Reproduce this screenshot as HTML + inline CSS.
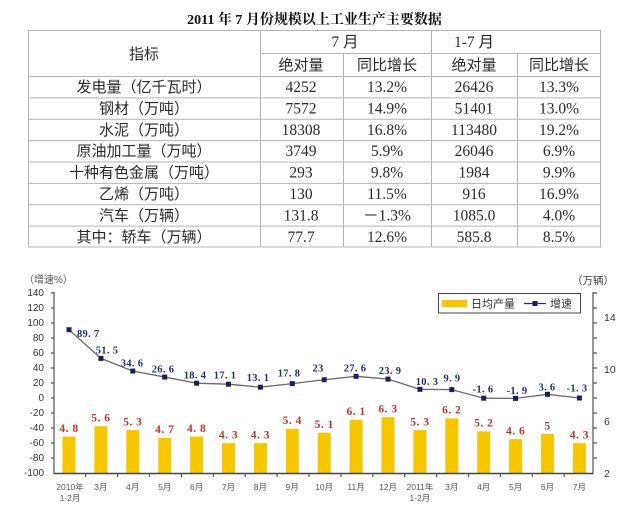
<!DOCTYPE html>
<html><head><meta charset="utf-8">
<style>
html,body{margin:0;padding:0;background:#fff;}
svg{display:block;}
.t{font-family:"Liberation Sans","Noto Sans CJK SC",sans-serif;font-size:15px;fill:#2a2a2a;}
.n{font-family:"Liberation Serif","Noto Sans CJK SC",serif;font-size:15.5px;fill:#2a2a2a;}
.ax{font-family:"Liberation Sans",sans-serif;font-size:10px;fill:#333;}
.xl{font-family:"Liberation Sans","Noto Sans CJK SC",sans-serif;font-size:8.5px;fill:#555;}
.rl{font-family:"Liberation Serif",serif;font-weight:bold;font-size:11.5px;fill:#b33a30;letter-spacing:0.5px;}
.bl{font-family:"Liberation Serif",serif;font-weight:bold;font-size:10.5px;fill:#22306a;letter-spacing:0.3px;}
</style></head>
<body>
<svg width="628" height="521" viewBox="0 0 628 521" xmlns="http://www.w3.org/2000/svg">
<rect width="628" height="521" fill="#fff"/>
<!-- Title -->
<text x="314.5" y="24" text-anchor="middle" style="font-family:'Liberation Serif','Noto Serif CJK SC',serif;font-weight:bold;font-size:14px;fill:#111;">2011 年 7 月份规模以上工业生产主要数据</text>

<!-- Table -->
<g stroke="#b4b4b4" stroke-width="1" fill="none">
<rect x="28.5" y="30.5" width="572" height="216.5"/>
<line x1="260.5" y1="30" x2="260.5" y2="247"/>
<line x1="431.5" y1="30" x2="431.5" y2="247"/>
<line x1="343.5" y1="53" x2="343.5" y2="247"/>
<line x1="517.5" y1="53" x2="517.5" y2="247"/>
<line x1="260" y1="53.5" x2="601" y2="53.5"/>
<line x1="28" y1="76.5" x2="601" y2="76.5"/>
<line x1="28" y1="97.9" x2="601" y2="97.9"/>
<line x1="28" y1="119.3" x2="601" y2="119.3"/>
<line x1="28" y1="140.6" x2="601" y2="140.6"/>
<line x1="28" y1="162" x2="601" y2="162"/>
<line x1="28" y1="183.4" x2="601" y2="183.4"/>
<line x1="28" y1="204.8" x2="601" y2="204.8"/>
<line x1="28" y1="226.1" x2="601" y2="226.1"/>
</g>
<g text-anchor="middle">
<text class="t" x="144" y="59">指标</text>
<text class="n" x="345" y="47">7 月</text>
<text class="n" x="474" y="47">1-7 月</text>
<text class="t" x="301" y="70">绝对量</text>
<text class="t" x="387" y="70">同比增长</text>
<text class="t" x="474" y="70">绝对量</text>
<text class="t" x="559" y="70">同比增长</text>

<text class="t" x="144" y="92">发电量（亿千瓦时）</text>
<text class="n" x="301" y="92">4252</text><text class="n" x="387" y="92">13.2%</text><text class="n" x="474" y="92">26426</text><text class="n" x="559" y="92">13.3%</text>

<text class="t" x="144" y="113.4">钢材（万吨）</text>
<text class="n" x="301" y="113.4">7572</text><text class="n" x="387" y="113.4">14.9%</text><text class="n" x="474" y="113.4">51401</text><text class="n" x="559" y="113.4">13.0%</text>

<text class="t" x="144" y="134.8">水泥（万吨）</text>
<text class="n" x="301" y="134.8">18308</text><text class="n" x="387" y="134.8">16.8%</text><text class="n" x="474" y="134.8">113480</text><text class="n" x="559" y="134.8">19.2%</text>

<text class="t" x="144" y="156.2">原油加工量（万吨）</text>
<text class="n" x="301" y="156.2">3749</text><text class="n" x="387" y="156.2">5.9%</text><text class="n" x="474" y="156.2">26046</text><text class="n" x="559" y="156.2">6.9%</text>

<text class="t" x="144" y="177.6">十种有色金属（万吨）</text>
<text class="n" x="301" y="177.6">293</text><text class="n" x="387" y="177.6">9.8%</text><text class="n" x="474" y="177.6">1984</text><text class="n" x="559" y="177.6">9.9%</text>

<text class="t" x="144" y="199">乙烯（万吨）</text>
<text class="n" x="301" y="199">130</text><text class="n" x="387" y="199">11.5%</text><text class="n" x="474" y="199">916</text><text class="n" x="559" y="199">16.9%</text>

<text class="t" x="144" y="220.4">汽车（万辆）</text>
<text class="n" x="301" y="220.4">131.8</text><text class="n" x="387" y="220.4">－1.3%</text><text class="n" x="474" y="220.4">1085.0</text><text class="n" x="559" y="220.4">4.0%</text>

<text class="t" x="144" y="241.8">其中：轿车（万辆）</text>
<text class="n" x="301" y="241.8">77.7</text><text class="n" x="387" y="241.8">12.6%</text><text class="n" x="474" y="241.8">585.8</text><text class="n" x="559" y="241.8">8.5%</text>
</g>

<!-- Chart -->
<text x="24" y="283" style="font-family:'Liberation Sans','Noto Sans CJK SC',sans-serif;font-size:10px;fill:#555;">（增速%）</text>
<text x="572" y="284" style="font-family:'Liberation Sans','Noto Sans CJK SC',sans-serif;font-size:10.5px;fill:#444;">（万辆）</text>

<!-- left axis labels -->
<g class="ax" text-anchor="end">
<text x="44" y="296">140</text>
<text x="44" y="311">120</text>
<text x="44" y="326">100</text>
<text x="44" y="341">80</text>
<text x="44" y="356">60</text>
<text x="44" y="371">40</text>
<text x="44" y="386">20</text>
<text x="44" y="401">0</text>
<text x="44" y="416">-20</text>
<text x="44" y="431">-40</text>
<text x="44" y="446">-60</text>
<text x="44" y="461">-80</text>
<text x="44" y="476">-100</text>
</g>
<!-- right axis labels -->
<g class="ax" style="font-size:10.5px">
<text x="604" y="321">14</text>
<text x="604" y="373">10</text>
<text x="604" y="425">6</text>
<text x="604" y="477">2</text>
</g>

<!-- bars -->
<g fill="#f6c700">
<rect x="62.5" y="436.6" width="13" height="36.4"/>
<rect x="94.4" y="426.2" width="13" height="46.8"/>
<rect x="126.3" y="430.1" width="13" height="42.9"/>
<rect x="158.2" y="437.9" width="13" height="35.1"/>
<rect x="190.1" y="436.6" width="13" height="36.4"/>
<rect x="222" y="443.1" width="13" height="29.9"/>
<rect x="253.9" y="443.1" width="13" height="29.9"/>
<rect x="285.8" y="428.8" width="13" height="44.2"/>
<rect x="317.7" y="432.7" width="13" height="40.3"/>
<rect x="349.6" y="419.7" width="13" height="53.3"/>
<rect x="381.5" y="417.1" width="13" height="55.9"/>
<rect x="413.4" y="430.1" width="13" height="42.9"/>
<rect x="445.3" y="418.4" width="13" height="54.6"/>
<rect x="477.2" y="431.4" width="13" height="41.6"/>
<rect x="509.1" y="439.2" width="13" height="33.8"/>
<rect x="541" y="434" width="13" height="39"/>
<rect x="572.9" y="443.1" width="13" height="29.9"/>
</g>

<!-- axes -->
<g stroke="#555" stroke-width="1.2" fill="none">
<line x1="54" y1="292" x2="54" y2="473.5"/>
<line x1="593" y1="292" x2="593" y2="473.5"/>
<line x1="53.5" y1="473.5" x2="593.5" y2="473.5" stroke="#444" stroke-width="1.5"/>
<path d="M51 293H54M51 308H54M51 323H54M51 338H54M51 353H54M51 368H54M51 383H54M51 398H54M51 413H54M51 428H54M51 443H54M51 458H54"/>
<path d="M593 293H597M593 308H597M593 323H597M593 338H597M593 353H597M593 368H597M593 383H597M593 398H597M593 413H597M593 428H597M593 443H597M593 458H597"/>
<path d="M85.7 473V477M117.6 473V477M149.5 473V477M181.4 473V477M213.3 473V477M245.2 473V477M277.1 473V477M309 473V477M340.9 473V477M372.8 473V477M404.7 473V477M436.6 473V477M468.5 473V477M500.4 473V477M532.3 473V477M564.2 473V477"/>
</g>

<!-- line -->
<polyline fill="none" stroke="#6a6a6a" stroke-width="1.3" points="69,329.7 100.9,358.4 132.8,371.05 164.7,377.05 196.6,383.2 228.5,384.2 260.4,387.2 292.3,383.65 324.2,379.75 356.1,376.3 388,379.1 419.9,389.3 451.8,389.6 483.7,398.2 515.6,398.4 547.5,394.3 579.4,398"/>
<g fill="#1a1f5c">
<rect x="66.5" y="327.2" width="5" height="5"/>
<rect x="98.4" y="355.9" width="5" height="5"/>
<rect x="130.3" y="368.55" width="5" height="5"/>
<rect x="162.2" y="374.55" width="5" height="5"/>
<rect x="194.1" y="380.7" width="5" height="5"/>
<rect x="226" y="381.7" width="5" height="5"/>
<rect x="257.9" y="384.7" width="5" height="5"/>
<rect x="289.8" y="381.15" width="5" height="5"/>
<rect x="321.7" y="377.25" width="5" height="5"/>
<rect x="353.6" y="373.8" width="5" height="5"/>
<rect x="385.5" y="376.6" width="5" height="5"/>
<rect x="417.4" y="386.8" width="5" height="5"/>
<rect x="449.3" y="387.1" width="5" height="5"/>
<rect x="481.2" y="395.7" width="5" height="5"/>
<rect x="513.1" y="395.9" width="5" height="5"/>
<rect x="545" y="391.8" width="5" height="5"/>
<rect x="576.9" y="395.5" width="5" height="5"/>
</g>

<!-- line labels -->
<g class="bl" text-anchor="middle">
<text x="77" y="337" text-anchor="start">89. 7</text>
<text x="107" y="353.5">51. 5</text>
<text x="132" y="366.5">34. 6</text>
<text x="163" y="372.5">26. 6</text>
<text x="195" y="378.5">18. 4</text>
<text x="225" y="378.5">17. 1</text>
<text x="258" y="381">13. 1</text>
<text x="289" y="376.5">17. 8</text>
<text x="318" y="371.5">23</text>
<text x="355" y="371.5">27. 6</text>
<text x="390" y="374">23. 9</text>
<text x="427" y="385">10. 3</text>
<text x="452" y="381.5">9. 9</text>
<text x="483" y="392.5">-1. 6</text>
<text x="517" y="394">-1. 9</text>
<text x="547" y="390.5">3. 6</text>
<text x="577" y="391.5">-1. 3</text>
</g>

<!-- bar labels -->
<g class="rl" text-anchor="middle">
<text x="69" y="432">4. 8</text>
<text x="100.9" y="421.5">5. 6</text>
<text x="132.8" y="425.5">5. 3</text>
<text x="164.7" y="433">4. 7</text>
<text x="196.6" y="432">4. 8</text>
<text x="228.5" y="438.5">4. 3</text>
<text x="260.4" y="438.5">4. 3</text>
<text x="292.3" y="424">5. 4</text>
<text x="324.2" y="428">5. 1</text>
<text x="356.1" y="415">6. 1</text>
<text x="388" y="412.5">6. 3</text>
<text x="419.9" y="425.5">5. 3</text>
<text x="451.8" y="413.5">6. 2</text>
<text x="483.7" y="426.5">5. 2</text>
<text x="515.6" y="434.5">4. 6</text>
<text x="547.5" y="429.5">5</text>
<text x="579.4" y="438.5">4. 3</text>
</g>

<!-- x labels -->
<g class="xl" text-anchor="middle">
<text x="70" y="490">2010年</text>
<text x="70" y="501">1-2月</text>
<text x="100.9" y="490">3月</text>
<text x="132.8" y="490">4月</text>
<text x="164.7" y="490">5月</text>
<text x="196.6" y="490">6月</text>
<text x="228.5" y="490">7月</text>
<text x="260.4" y="490">8月</text>
<text x="292.3" y="490">9月</text>
<text x="324.2" y="490">10月</text>
<text x="356.1" y="490">11月</text>
<text x="388" y="490">12月</text>
<text x="419.9" y="490">2011年</text>
<text x="419.9" y="501">1-2月</text>
<text x="451.8" y="490">3月</text>
<text x="483.7" y="490">4月</text>
<text x="515.6" y="490">5月</text>
<text x="547.5" y="490">6月</text>
<text x="579.4" y="490">7月</text>
</g>

<!-- legend -->
<rect x="438.5" y="293.5" width="142" height="19.5" fill="#fff" stroke="#444" stroke-width="1"/>
<rect x="442" y="300" width="25" height="7" fill="#f6c700"/>
<text x="471" y="307.5" style="font-family:'Liberation Sans','Noto Sans CJK SC',sans-serif;font-size:11px;fill:#333;">日均产量</text>
<line x1="524" y1="303.5" x2="546" y2="303.5" stroke="#333" stroke-width="1.2"/>
<rect x="532.5" y="301" width="5" height="5" fill="#1a1f5c"/>
<text x="550" y="307.5" style="font-family:'Liberation Sans','Noto Sans CJK SC',sans-serif;font-size:11px;fill:#333;">增速</text>
</svg>
</body></html>
